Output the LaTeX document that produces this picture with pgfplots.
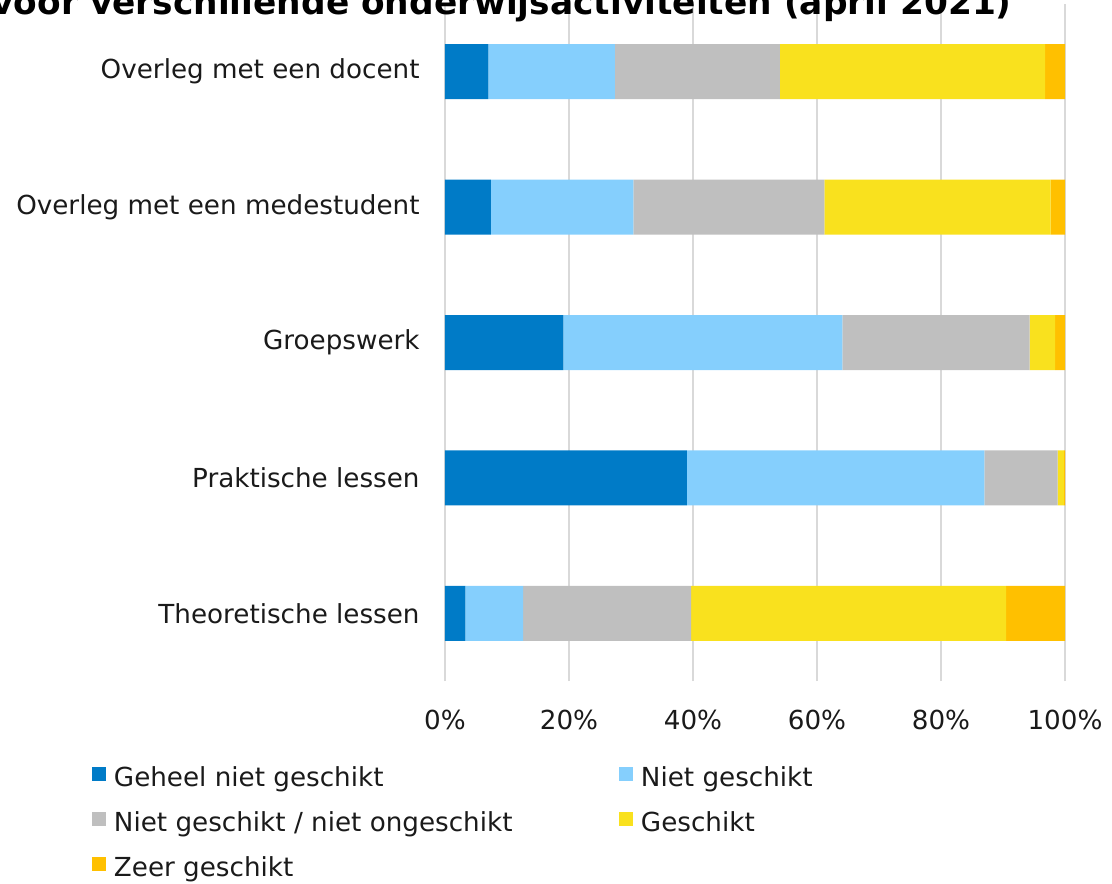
\documentclass[border=0pt]{standalone}
\usepackage{fontspec}
\setmainfont{DejaVu Sans}
\usepackage{pgfplots}
\pgfplotsset{compat=1.18}
\definecolor{cA}{HTML}{007BC7}
\definecolor{cB}{HTML}{85CFFD}
\definecolor{cC}{HTML}{BFBFBF}
\definecolor{cD}{HTML}{F9E11E}
\definecolor{cE}{HTML}{FFC000}
\definecolor{txt}{HTML}{1A1A1A}
\definecolor{gridc}{HTML}{D9D9D9}
\begin{document}
\begin{tikzpicture}
\useasboundingbox (-222.5pt,-101pt) rectangle (333.5pt,340.5pt);
\clip (-222.5pt,-101pt) rectangle (333.5pt,340.5pt);
\begin{axis}[
  at={(0pt,0pt)}, anchor=south west,
  scale only axis, width=310pt, height=338.5pt,
  xbar stacked, bar width=27.5pt,
  xmin=0, xmax=100, ymin=-0.5, ymax=4.5,
  axis line style={draw=none},
  xmajorgrids, grid style={color=gridc, line width=0.8pt},
  tick style={draw=none},
  xtick={0,20,...,100},
  xticklabel={\pgfmathprintnumber{\tick}\%},
  /pgf/number format/assume math mode=true,
  ytick={0,1,2,3,4},
  yticklabels={Theoretische lessen,Praktische lessen,Groepswerk,Overleg met een medestudent,Overleg met een docent},
  tick label style={font=\fontsize{13.1}{15.6}\selectfont, text=txt},
  x tick label style={anchor=north, inner sep=0pt, yshift=-14.5pt},
  y tick label style={anchor=east, inner sep=0pt, xshift=-12.5pt},
  legend columns=2,
  legend cell align=left,
  legend image code/.code={\fill[#1] (0pt,-1.5pt) rectangle (7pt,5.5pt);},
  legend style={draw=none, fill=none, inner sep=0pt, outer sep=0pt,
    anchor=north west, at={(axis description cs:-0.5694,-0.1264)},
    font=\fontsize{13.1}{15.6}\selectfont, text=txt,
    nodes={inner sep=0pt},
    row sep=11pt,
    /tikz/every odd column/.append style={column sep=4pt}},
]
\addplot[fill=cA, draw=none] coordinates {(3.3,0) (39.0,1) (19.1,2) (7.4,3) (7.0,4)};
\addlegendentry{\makebox[252.5pt][l]{Geheel niet geschikt}}
\addplot[fill=cB, draw=none] coordinates {(9.3,0) (48.0,1) (45.0,2) (23.0,3) (20.4,4)};
\addlegendentry{Niet geschikt}
\addplot[fill=cC, draw=none] coordinates {(27.1,0) (11.8,1) (30.2,2) (30.8,3) (26.6,4)};
\addlegendentry{\makebox[252.5pt][l]{Niet geschikt / niet ongeschikt}}
\addplot[fill=cD, draw=none] coordinates {(50.8,0) (1.0,1) (4.1,2) (36.5,3) (42.8,4)};
\addlegendentry{Geschikt}
\addplot[fill=cE, draw=none] coordinates {(9.5,0) (0.2,1) (1.6,2) (2.3,3) (3.2,4)};
\addlegendentry{\makebox[252.5pt][l]{Zeer geschikt}}
\end{axis}
\node[anchor=base east, inner sep=0pt, text=black, font=\bfseries\fontsize{17.2}{21}\selectfont] at (283.5pt,333pt) {voor verschillende onderwijsactiviteiten (april 2021)};
\end{tikzpicture}
\end{document}
